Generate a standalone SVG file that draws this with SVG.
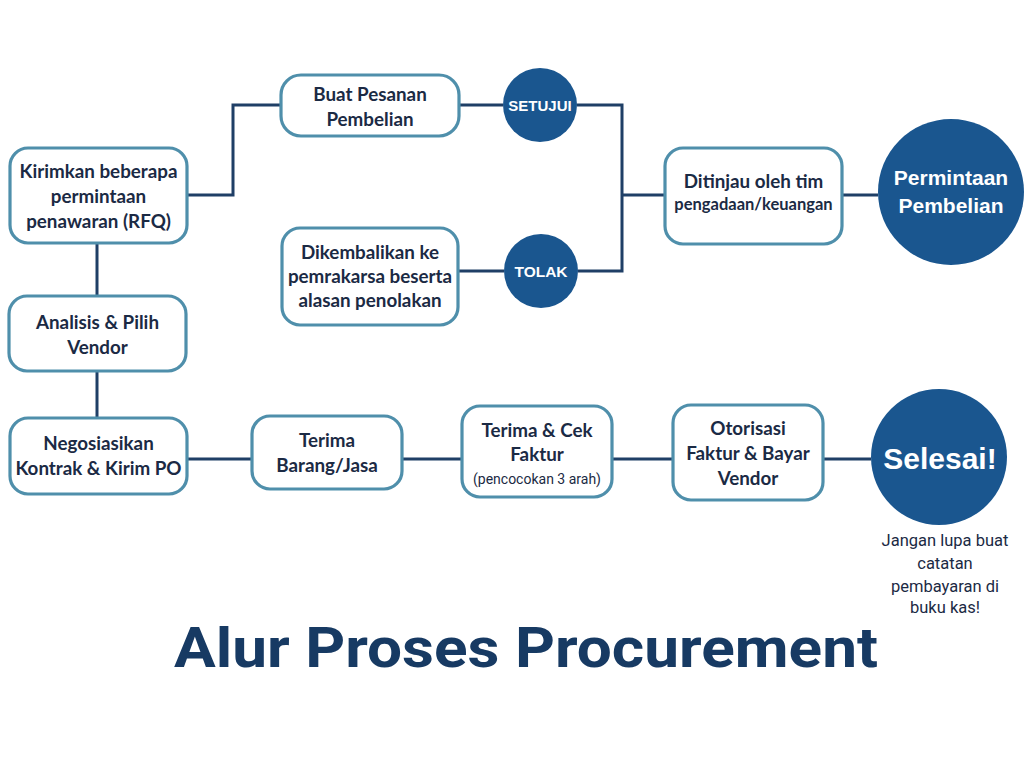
<svg xmlns="http://www.w3.org/2000/svg" width="1024" height="767" viewBox="0 0 1024 767">
<style>
.box{fill:#ffffff;stroke:#4f8fab;stroke-width:3.2}
.circ{fill:#1a568f}
.t{font-family:Lato,"Liberation Sans",sans-serif;font-weight:700;font-size:18.8px;fill:#1b2a44;text-anchor:middle}
.ts{font-family:Roboto,"Liberation Sans",sans-serif;font-size:14px;fill:#1b2a44;text-anchor:middle}
.tc{font-family:"Liberation Sans",Arial,sans-serif;font-weight:700;fill:#ffffff;text-anchor:middle}
.note{font-family:Roboto,"Liberation Sans",sans-serif;font-size:16.5px;fill:#1b2a44;text-anchor:middle}
.c{fill:none;stroke:#1f3f66;stroke-width:3}
</style>
<rect width="1024" height="767" fill="#ffffff"/>
<g id="connectors">
<polyline class="c" points="187,195 233,195 233,105 281,105"/>
<line class="c" x1="459" y1="105" x2="503" y2="105"/>
<polyline class="c" points="577,105 622,105 622,271 578,271"/>
<line class="c" x1="504" y1="271" x2="458" y2="271"/>
<line class="c" x1="622" y1="195" x2="665" y2="195"/>
<line class="c" x1="842" y1="195" x2="878" y2="195"/>
<line class="c" x1="97" y1="243" x2="97" y2="296"/>
<line class="c" x1="97" y1="371" x2="97" y2="418"/>
<line class="c" x1="187" y1="459" x2="252" y2="459"/>
<line class="c" x1="402" y1="459" x2="462" y2="459"/>
<line class="c" x1="612" y1="459" x2="673" y2="459"/>
<line class="c" x1="823" y1="459" x2="871" y2="459"/>
</g>
<g id="rfq">
<rect class="box" x="10" y="148" width="177" height="95" rx="18"/>
<text class="t" x="98.5" y="178">Kirimkan beberapa</text>
<text class="t" x="98.5" y="203">permintaan</text>
<text class="t" x="98.5" y="228">penawaran (RFQ)</text>
</g>
<g id="po">
<rect class="box" x="281" y="75" width="178" height="61" rx="20"/>
<text class="t" x="370" y="101">Buat Pesanan</text>
<text class="t" x="370" y="126">Pembelian</text>
</g>
<g id="setujui">
<circle class="circ" cx="540" cy="105" r="37"/>
<text class="tc" x="540" y="110.5" font-size="15">SETUJUI</text>
</g>
<g id="kembali">
<rect class="box" x="282" y="228" width="176" height="97" rx="18"/>
<text class="t" x="370" y="259">Dikembalikan ke</text>
<text class="t" x="370" y="283">pemrakarsa beserta</text>
<text class="t" x="370" y="307">alasan penolakan</text>
</g>
<g id="tolak">
<circle class="circ" cx="541" cy="271" r="37"/>
<text class="tc" x="541" y="276.5" font-size="15.5">TOLAK</text>
</g>
<g id="ditinjau">
<rect class="box" x="665" y="148" width="177" height="96" rx="18"/>
<text class="t" x="753.5" y="188">Ditinjau oleh tim</text>
<text class="t" x="753.5" y="210" style="font-size:16.5px">pengadaan/keuangan</text>
</g>
<g id="permintaan">
<circle class="circ" cx="951" cy="192" r="73"/>
<text class="tc" x="951" y="185" font-size="21">Permintaan</text>
<text class="tc" x="951" y="213" font-size="21">Pembelian</text>
</g>
<g id="analisis">
<rect class="box" x="9" y="296" width="177" height="75" rx="18"/>
<text class="t" x="97.5" y="329">Analisis &amp; Pilih</text>
<text class="t" x="97.5" y="354">Vendor</text>
</g>
<g id="negosiasi">
<rect class="box" x="10" y="418" width="177" height="76" rx="18"/>
<text class="t" x="98.5" y="450">Negosiasikan</text>
<text class="t" x="98.5" y="475">Kontrak &amp; Kirim PO</text>
</g>
<g id="terima">
<rect class="box" x="252" y="416" width="150" height="73" rx="18"/>
<text class="t" x="327" y="447">Terima</text>
<text class="t" x="327" y="472">Barang/Jasa</text>
</g>
<g id="faktur">
<rect class="box" x="462" y="406" width="150" height="91" rx="18"/>
<text class="t" x="537" y="437">Terima &amp; Cek</text>
<text class="t" x="537" y="461">Faktur</text>
<text class="ts" x="537" y="484">(pencocokan 3 arah)</text>
</g>
<g id="otorisasi">
<rect class="box" x="673" y="405" width="150" height="95" rx="18"/>
<text class="t" x="748" y="435">Otorisasi</text>
<text class="t" x="748" y="460">Faktur &amp; Bayar</text>
<text class="t" x="748" y="485">Vendor</text>
</g>
<g id="selesai">
<circle class="circ" cx="939" cy="457" r="68"/>
<text class="tc" x="940" y="469" font-size="30">Selesai!</text>
</g>
<g id="note">
<text class="note" x="945" y="546">Jangan lupa buat</text>
<text class="note" x="945" y="569">catatan</text>
<text class="note" x="945" y="592">pembayaran di</text>
<text class="note" x="945" y="613">buku kas!</text>
</g>
<g id="title">
<text x="526" y="667" font-family="Roboto,'Liberation Sans',sans-serif" font-weight="700" font-size="56" fill="#173a63" text-anchor="middle" textLength="704" lengthAdjust="spacingAndGlyphs">Alur Proses Procurement</text>
</g>
</svg>
